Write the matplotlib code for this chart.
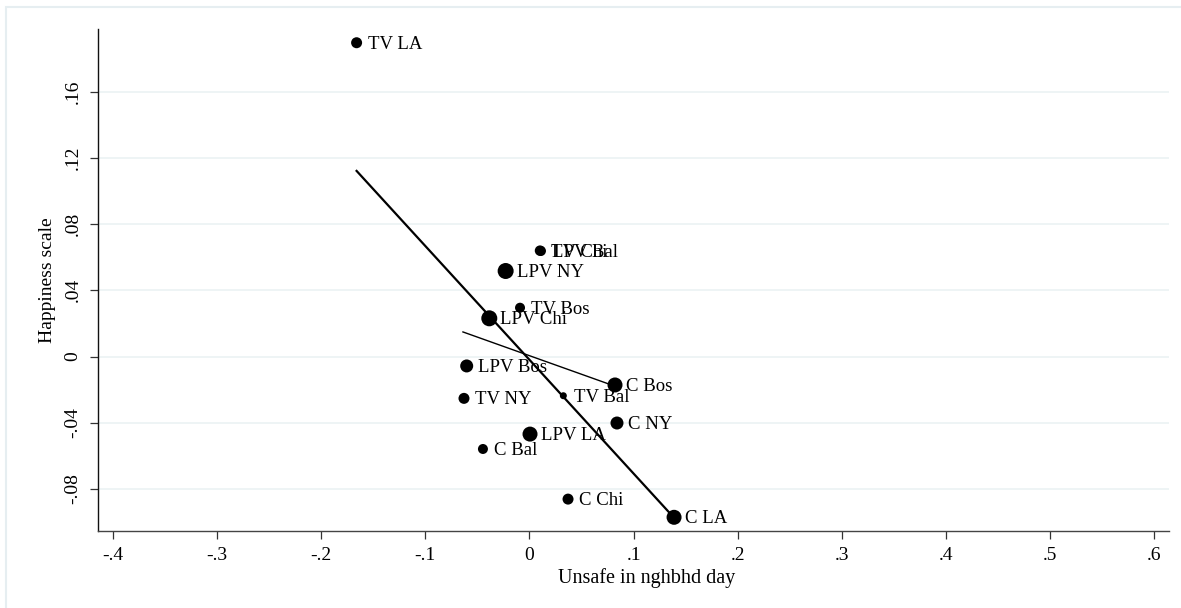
import matplotlib.pyplot as plt
from matplotlib.patches import Rectangle

plt.rcParams['font.family'] = ['Liberation Serif', 'DejaVu Serif']

# groups (treatment x site) and their means
etiketler = ['TV LA', 'TV Chi', 'LPV Bal', 'LPV NY', 'TV Bos', 'LPV Chi', 'LPV Bos',
             'TV NY', 'TV Bal', 'C Bos', 'C NY', 'LPV LA', 'C Bal', 'C Chi', 'C LA']
guvensiz = [-0.166, 0.0101, 0.011, -0.0229, -0.0091, -0.0386, -0.0603,
            -0.0629, 0.0325, 0.0821, 0.0840, 0.0005, -0.0447, 0.0370, 0.1388]
mutluluk = [0.1897, 0.0640, 0.0638, 0.0517, 0.0295, 0.0231, -0.0057,
            -0.0253, -0.0237, -0.0172, -0.0402, -0.0469, -0.0559, -0.0862, -0.0972]
# relative analytic weights (marker area)
agirlik = [121, 110, 100, 256, 100, 256, 169, 121, 49, 225, 169, 225, 100, 121, 225]

# fitted lines: all groups, and without the two extreme groups
egim_tum, kesen_tum = -0.688, -0.0020
egim_kisa, kesen_kisa = -0.2247, 0.0005
kisa_aralik = (-0.0639, 0.0821)

xticks = [-0.4, -0.3, -0.2, -0.1, 0, 0.1, 0.2, 0.3, 0.4, 0.5, 0.6]
xtick_labels = ['-.4', '-.3', '-.2', '-.1', '0', '.1', '.2', '.3', '.4', '.5', '.6']
yticks = [-0.08, -0.04, 0, 0.04, 0.08, 0.12, 0.16]
ytick_labels = ['-.08', '-.04', '0', '.04', '.08', '.12', '.16']

fig = plt.figure(figsize=(11.81, 6.08), dpi=100)
fig.patches.append(Rectangle((6 / 1181, -0.1), 1.2, 1 - 6.5 / 608 + 0.1,
                             transform=fig.transFigure, fill=False,
                             edgecolor='#e6eef1', linewidth=1.5))
ax = fig.add_axes([98.3 / 1181, 1 - 530.7 / 608, (1169 - 98.3) / 1181, (530.7 - 29) / 608])

for y in yticks:
    ax.axhline(y, color='#eaf1f3', linewidth=1.1, zorder=0)

px2pt = 72 / 100
boyut = [(w ** 0.5 * px2pt) ** 2 for w in agirlik]
ax.scatter(guvensiz, mutluluk, s=boyut, color='black', linewidths=0, zorder=3)
for x, y, t in zip(guvensiz, mutluluk, etiketler):
    ax.annotate(t, (x, y), xytext=(8, -1), textcoords='offset points',
                va='center', ha='left', fontsize=13.5, color='black')

x1, x2 = min(guvensiz), max(guvensiz)
ax.plot([x1, x2], [kesen_tum + egim_tum * x1, kesen_tum + egim_tum * x2],
        color='black', linewidth=1.6, zorder=2)
a, b = kisa_aralik
ax.plot([a, b], [kesen_kisa + egim_kisa * a, kesen_kisa + egim_kisa * b],
        color='black', linewidth=1.0, zorder=2)

ax.set_xlim(-0.414, 0.614)
ax.set_ylim(-0.1053, 0.198)
ax.set_xticks(xticks)
ax.set_xticklabels(xtick_labels, fontsize=14)
ax.set_yticks(yticks)
ax.set_yticklabels(ytick_labels, fontsize=14, rotation=90, va='center')
ax.tick_params(direction='out', length=6, width=0.9, color='#333333', pad=6)
ax.set_xlabel('Unsafe in nghbhd day', fontsize=14.5)
ax.xaxis.set_label_coords(0.512, -0.074)
ax.set_ylabel('Happiness scale', fontsize=14, labelpad=6)
for s in ['top', 'right']:
    ax.spines[s].set_visible(False)
ax.spines['left'].set_color('#111111')
ax.spines['bottom'].set_color('#444444')
ax.spines['left'].set_linewidth(1.0)
ax.spines['bottom'].set_linewidth(1.0)

plt.savefig('out.png', dpi=100)
